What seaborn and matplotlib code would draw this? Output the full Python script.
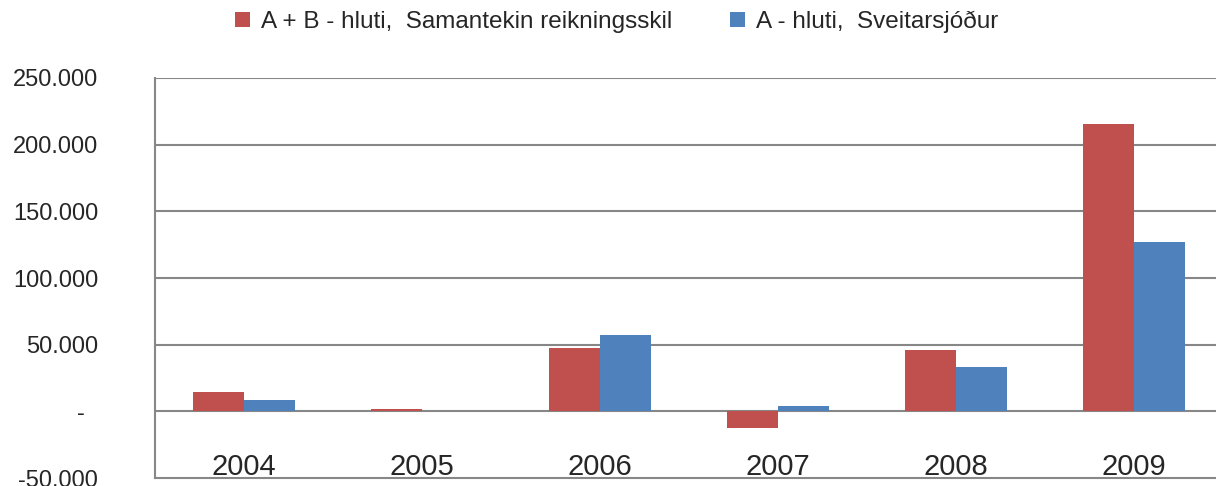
import matplotlib
matplotlib.use("Agg")
import matplotlib.pyplot as plt
import seaborn as sns
import pandas as pd

ar = ["2004", "2005", "2006", "2007", "2008", "2009"]
ab_hluti = [14800, 1700, 47300, -12500, 45800, 215700]
a_hluti = [8500, 0, 57200, 3800, 33500, 127000]
flokkar = ["A + B - hluti,  Samantekin reikningsskil", "A - hluti,  Sveitarsjóður"]
litir = ["#C0504D", "#4F81BD"]
y_ticks = [-50000, 0, 50000, 100000, 150000, 200000, 250000]
y_labels = ["-50.000", "-  ", "50.000", "100.000", "150.000", "200.000", "250.000"]

df = pd.DataFrame({
    "Ár": ar * 2,
    "Gildi": ab_hluti + a_hluti,
    "Flokkur": [flokkar[0]] * len(ar) + [flokkar[1]] * len(ar),
})

sns.set_style("white")
plt.rcParams["font.family"] = ["Liberation Sans", "DejaVu Sans"]

fig = plt.figure(figsize=(12.16, 4.86), dpi=100)
ax = fig.add_axes([155 / 1216, 8 / 486, 1 - 155 / 1216, 400 / 486])

sns.barplot(data=df, x="Ár", y="Gildi", hue="Flokkur", palette=litir,
            width=0.57, gap=0, linewidth=0, saturation=1, ax=ax, zorder=3)

ax.set_ylim(-50000, 250000)
ax.set_xlim(-0.5, 5.46)
ax.set_yticks(y_ticks)
ax.set_yticklabels(y_labels)
ax.set_xlabel("")
ax.set_ylabel("")

grid_col = "#878787"
for t in y_ticks[1:]:
    ax.axhline(t, color=grid_col, lw=1.5, zorder=1)
for s in ["top", "right"]:
    ax.spines[s].set_visible(False)
for s in ["left", "bottom"]:
    ax.spines[s].set_color(grid_col)
    ax.spines[s].set_linewidth(1.5)

ax.tick_params(axis="y", length=0, pad=41, labelsize=17)
ax.tick_params(axis="x", length=0, pad=-18, labelsize=21)

h, l = ax.get_legend_handles_labels()
ax.get_legend().remove()
fig.legend(h, l, loc="center", bbox_to_anchor=(0.507, 1 - 22 / 486), ncol=2,
           frameon=False, fontsize=17.5, handlelength=0.6, handleheight=0.6,
           handletextpad=0.45, columnspacing=2.4)

fig.savefig("out.png", dpi=100)
